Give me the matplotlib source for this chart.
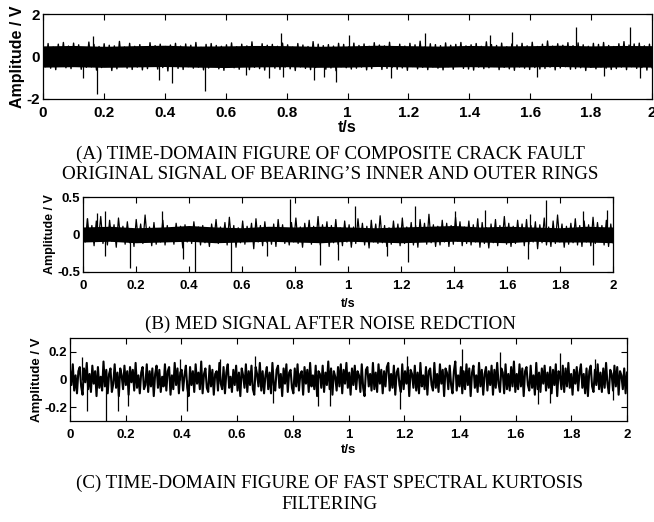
import numpy as np
import matplotlib
matplotlib.use("Agg")
import matplotlib.pyplot as plt

plt.rcParams['axes.unicode_minus'] = False

# (A) raw signal: dense band values, then the big spikes
sig_a = [
    0.52, -0.48, 0.61, -0.55, 0.44, -0.62, 0.58, -0.41, 0.66, -0.53, 0.49, -0.57, 0.63, -0.46, 0.55, -0.60, 0.42, -0.51, 0.68, -0.49,
    0.57, -0.64, 0.47, -0.52, 0.60, -0.44, 0.53, -0.66, 0.50, -0.58, 0.71, -0.47, 0.45, -0.55, 0.62, -0.61, 0.48, -0.50, 0.56, -0.63,
    0.44, -0.57, 0.65, -0.45, 0.51, -0.59, 0.58, -0.52, 0.47, -0.68, 0.54, -0.43, 0.62, -0.56, 0.49, -0.61, 0.59, -0.48, 0.53, -0.55,
    0.66, -0.50, 0.43, -0.63, 0.57, -0.54, 0.61, -0.46, 0.52, -0.58, 0.48, -0.65, 0.55, -0.49, 0.64, -0.53, 0.46, -0.60, 0.58, -0.45,
    0.50, -0.62, 0.69, -0.51, 0.45, -0.57, 0.60, -0.64, 0.53, -0.47, 0.57, -0.55, 0.48, -0.61, 0.63, -0.50, 0.55, -0.58, 0.44, -0.66,
    0.61, -0.49, 0.54, -0.56, 0.47, -0.62, 0.70, -0.52, 0.58, -0.45, 0.51, -0.60, 0.56, -0.54, 0.49, -0.67, 0.62, -0.48, 0.57, -0.53,
    0.46, -0.59, 0.63, -0.55, 0.52, -0.50, 0.59, -0.63, 0.48, -0.57, 0.65, -0.46, 0.54, -0.61, 0.50, -0.56, 0.67, -0.52, 0.45, -0.60,
    0.58, -0.54, 0.49, -0.65, 0.62, -0.47, 0.55, -0.58, 0.72, -0.51, 0.47, -0.62, 0.60, -0.49, 0.56, -0.55, 0.51, -0.63, 0.64, -0.48,
    0.53, -0.60, 0.57, -0.46, 0.66, -0.56, 0.50, -0.59, 0.55, -0.64, 0.61, -0.50, 0.48, -0.57, 0.69, -0.53, 0.56, -0.47, 0.52, -0.62,
    0.63, -0.51, 0.46, -0.58, 0.59, -0.65, 0.54, -0.49, 0.62, -0.55, 0.50, -0.61, 0.67, -0.52, 0.47, -0.59, 0.58, -0.56, 0.73, -0.50,
    0.49, -0.63, 0.60, -0.54, 0.53, -0.48, 0.65, -0.60, 0.51, -0.57, 0.64, -0.53, 0.55, -0.66, 0.48, -0.51, 0.62, -0.58, 0.57, -0.49,
    0.66, -0.55, 0.52, -0.61, 0.47, -0.57, 0.60, -0.50, 0.70, -0.62, 0.54, -0.48, 0.59, -0.56, 0.63, -0.52, 0.50, -0.64, 0.58, -0.53,
]
# solid black core of the band (upper / lower edge)
core_a_hi = [0.50, 0.52, 0.48, 0.51, 0.53, 0.49, 0.50, 0.52, 0.51, 0.48, 0.50,
             0.53, 0.51, 0.49, 0.52, 0.50, 0.51, 0.53, 0.50, 0.52, 0.51]
core_a_lo = [-0.50, -0.48, -0.51, -0.49, -0.47, -0.50, -0.52, -0.49, -0.48, -0.51, -0.50,
             -0.47, -0.49, -0.51, -0.48, -0.50, -0.49, -0.47, -0.51, -0.49, -0.50]
spike_a_t = [0.131, 0.164, 0.177, 0.38, 0.424, 0.532, 0.667, 0.741, 0.782, 0.787, 0.891, 0.923,
             0.962, 1.006, 1.142, 1.255, 1.467, 1.541, 1.622, 1.749, 1.842, 1.929, 1.962]
spike_a_v = [-1.0, 0.97, -1.75, -1.1, -1.25, -1.6, -0.85, -1.0, 1.1, -0.97, -1.1, -0.97,
             -1.2, 1.0, -1.0, 1.1, 1.0, 1.17, -0.95, 1.4, -0.9, 1.4, -1.0]

# (B) MED output
sig_b = [
    0.14, -0.10, 0.21, -0.08, 0.12, -0.15, 0.18, -0.06, 0.24, -0.12, 0.09, -0.14, 0.19, -0.09, 0.13, -0.17, 0.22, -0.07, 0.11, -0.13,
    0.17, -0.11, 0.08, -0.16, 0.20, -0.09, 0.14, -0.12, 0.26, -0.08, 0.10, -0.15, 0.16, -0.13, 0.07, -0.10, 0.19, -0.14, 0.12, -0.09,
    0.09, -0.13, 0.15, -0.07, 0.11, -0.18, 0.13, -0.10, 0.08, -0.12, 0.17, -0.09, 0.10, -0.14, 0.12, -0.11, 0.07, -0.16, 0.14, -0.08,
    0.20, -0.12, 0.10, -0.09, 0.16, -0.14, 0.23, -0.10, 0.12, -0.17, 0.09, -0.11, 0.18, -0.13, 0.11, -0.08, 0.15, -0.19, 0.21, -0.10,
    0.12, -0.15, 0.17, -0.11, 0.09, -0.13, 0.14, -0.16, 0.20, -0.09, 0.13, -0.12, 0.08, -0.14, 0.16, -0.10, 0.22, -0.12, 0.10, -0.17,
    0.15, -0.08, 0.19, -0.13, 0.11, -0.10, 0.24, -0.14, 0.13, -0.09, 0.17, -0.16, 0.12, -0.11, 0.20, -0.13, 0.09, -0.15, 0.18, -0.10,
    0.13, -0.17, 0.10, -0.12, 0.21, -0.09, 0.15, -0.14, 0.11, -0.18, 0.19, -0.10, 0.14, -0.12, 0.25, -0.11, 0.12, -0.16, 0.09, -0.13,
    0.18, -0.10, 0.14, -0.15, 0.22, -0.12, 0.10, -0.09, 0.16, -0.14, 0.12, -0.17, 0.20, -0.08, 0.15, -0.13, 0.27, -0.11, 0.13, -0.16,
    0.11, -0.14, 0.19, -0.10, 0.15, -0.16, 0.12, -0.13, 0.23, -0.09, 0.17, -0.15, 0.10, -0.12, 0.18, -0.14, 0.13, -0.10, 0.21, -0.17,
    0.16, -0.12, 0.09, -0.18, 0.14, -0.11, 0.20, -0.15, 0.12, -0.10, 0.24, -0.13, 0.15, -0.16, 0.11, -0.12, 0.19, -0.09, 0.14, -0.15,
    0.20, -0.13, 0.12, -0.10, 0.17, -0.19, 0.13, -0.11, 0.22, -0.14, 0.10, -0.16, 0.18, -0.12, 0.26, -0.10, 0.14, -0.17, 0.11, -0.13,
    0.15, -0.11, 0.21, -0.14, 0.12, -0.16, 0.18, -0.10, 0.13, -0.15, 0.23, -0.12, 0.16, -0.09, 0.12, -0.14, 0.19, -0.16, 0.14, -0.11,
]
core_b_hi = [0.10, 0.11, 0.09, 0.10, 0.12, 0.10, 0.09, 0.11, 0.10, 0.11, 0.10,
             0.09, 0.10, 0.11, 0.12, 0.10, 0.11, 0.10, 0.09, 0.11, 0.10]
core_b_lo = [-0.10, -0.09, -0.11, -0.10, -0.09, -0.11, -0.10, -0.09, -0.10, -0.11, -0.09,
             -0.10, -0.11, -0.10, -0.09, -0.10, -0.11, -0.09, -0.10, -0.10, -0.11]
spike_b_t = [0.014, 0.052, 0.083, 0.083, 0.177, 0.297, 0.378, 0.423, 0.557, 0.693, 0.781, 0.894, 0.963,
             1.026, 1.146, 1.228, 1.253, 1.404, 1.517, 1.681, 1.687, 1.747, 1.887, 1.926, 1.976]
spike_b_v = [0.22, 0.29, 0.31, -0.29, -0.44, 0.31, -0.33, -0.51, -0.51, -0.28, 0.47, -0.41, -0.34,
             0.38, -0.28, -0.36, 0.38, 0.31, 0.33, -0.32, 0.28, 0.46, 0.31, -0.41, 0.33]

# (C) fast spectral kurtosis filtered
sig_c = [
    0.07, -0.04, 0.11, -0.08, 0.03, -0.10, 0.06, 0.09, -0.05, -0.11, 0.08, -0.02, 0.12, -0.07, 0.04, -0.09, 0.10, -0.03, 0.06, -0.12,
    0.09, -0.06, 0.02, -0.08, 0.13, -0.05, 0.07, -0.10, 0.04, 0.08, -0.09, -0.03, 0.11, -0.06, 0.05, -0.12, 0.08, 0.03, -0.07, 0.10,
    -0.04, 0.06, -0.11, 0.09, -0.02, 0.07, -0.08, 0.12, -0.06, 0.03, -0.10, 0.05, 0.09, -0.07, -0.04, 0.11, -0.09, 0.06, -0.05, 0.08,
    -0.12, 0.04, 0.10, -0.06, 0.07, -0.09, 0.02, -0.05, 0.11, -0.08, 0.06, 0.09, -0.11, 0.03, -0.07, 0.12, -0.04, 0.08, -0.10, 0.05,
    0.07, -0.08, 0.03, 0.10, -0.06, -0.12, 0.09, -0.04, 0.06, -0.09, 0.11, -0.03, 0.05, -0.07, 0.13, -0.10, 0.04, 0.08, -0.06, -0.09,
    0.10, -0.05, 0.07, -0.11, 0.04, 0.06, -0.08, 0.12, -0.03, -0.07, 0.09, -0.10, 0.05, 0.11, -0.06, 0.02, -0.09, 0.07, -0.04, 0.10,
    -0.08, 0.05, -0.12, 0.08, 0.03, -0.06, 0.11, -0.09, 0.06, -0.04, 0.10, -0.07, -0.11, 0.09, 0.04, -0.05, 0.12, -0.08, 0.06, -0.10,
    0.03, 0.09, -0.07, 0.05, -0.10, 0.12, -0.04, -0.08, 0.07, 0.10, -0.06, 0.04, -0.12, 0.08, -0.03, 0.11, -0.09, 0.05, 0.07, -0.06,
    -0.10, 0.08, -0.05, 0.11, -0.08, 0.04, 0.06, -0.11, 0.09, -0.03, 0.07, -0.09, 0.12, -0.05, 0.03, -0.07, 0.10, -0.12, 0.06, 0.04,
    -0.06, 0.10, -0.09, 0.05, -0.04, 0.13, -0.07, 0.08, -0.11, 0.06, 0.02, -0.08, 0.09, -0.05, 0.11, -0.10, 0.07, -0.03, 0.12, -0.06,
    0.05, -0.11, 0.08, -0.04, 0.10, -0.07, 0.06, 0.03, -0.09, 0.11, -0.06, -0.12, 0.07, 0.09, -0.05, 0.04, -0.08, 0.12, -0.07, 0.05,
    -0.09, 0.11, -0.03, 0.07, -0.10, 0.06, -0.05, 0.09, 0.12, -0.08, 0.04, -0.06, 0.10, -0.11, 0.05, 0.08, -0.04, -0.09, 0.11, -0.07,
    0.06, -0.03, 0.09, -0.12, 0.07, 0.04, -0.06, 0.10, -0.08, 0.05, -0.10, 0.12, -0.05, 0.03, -0.07, 0.09, -0.11, 0.06, 0.08, -0.04,
    -0.08, 0.12, -0.06, 0.04, -0.09, 0.11, -0.03, 0.07, -0.12, 0.08, 0.05, -0.07, 0.10, -0.04, -0.10, 0.06, 0.13, -0.08, 0.03, -0.05,
    0.09, -0.10, 0.06, -0.07, 0.11, -0.04, 0.08, -0.12, 0.05, 0.10, -0.06, 0.03, -0.09, 0.12, -0.05, 0.07, -0.11, 0.04, 0.09, -0.08,
    0.06, -0.04, 0.10, -0.11, 0.07, -0.06, 0.12, -0.03, -0.09, 0.08, 0.05, -0.10, 0.11, -0.07, 0.04, -0.08, 0.09, -0.05, 0.13, -0.09,
    0.04, -0.07, 0.11, -0.05, 0.08, -0.12, 0.06, 0.09, -0.04, -0.08, 0.10, -0.06, 0.03, -0.11, 0.12, -0.07, 0.05, -0.09, 0.08, -0.03,
    0.10, -0.08, 0.05, -0.06, 0.09, -0.10, 0.07, -0.04, 0.11, -0.12, 0.06, 0.03, -0.07, 0.10, -0.09, 0.08, -0.05, 0.12, -0.06, 0.04,
    -0.11, 0.07, -0.03, 0.09, -0.08, 0.05, 0.11, -0.06, 0.04, -0.10, 0.08, -0.12, 0.06, 0.10, -0.05, -0.09, 0.07, -0.04, 0.11, -0.07,
    0.05, -0.09, 0.08, -0.06, 0.12, -0.03, -0.10, 0.07, 0.04, -0.08, 0.10, -0.05, 0.09, -0.11, 0.06, 0.03, -0.07, 0.08, -0.10, 0.05,
]
spike_c_t = [0.042, 0.062, 0.129, 0.173, 0.21, 0.395, 0.421, 0.539, 0.664, 0.73, 0.892, 0.934,
             1.185, 1.209, 1.406, 1.544, 1.682, 1.723, 1.759, 1.885, 1.951]
spike_c_v = [0.16, -0.23, -0.3, -0.23, -0.19, 0.15, -0.23, 0.15, 0.17, -0.17, -0.19, -0.19,
             -0.21, 0.17, 0.22, 0.2, -0.18, -0.17, 0.19, 0.15, -0.15]

xticks = [0, 0.2, 0.4, 0.6, 0.8, 1, 1.2, 1.4, 1.6, 1.8, 2]
xtick_labels = ['0', '0.2', '0.4', '0.6', '0.8', '1', '1.2', '1.4', '1.6', '1.8', '2']

captions_a = ["(A) TIME-DOMAIN FIGURE OF COMPOSITE CRACK FAULT",
              "ORIGINAL SIGNAL OF BEARING\u2019S INNER AND OUTER RINGS"]
caption_b = "(B) MED SIGNAL AFTER NOISE REDCTION"
captions_c = ["(C) TIME-DOMAIN FIGURE OF FAST SPECTRAL KURTOSIS", "FILTERING"]

W, H = 654, 522
fig = plt.figure(figsize=(W / 100, H / 100), dpi=100)

sans = ['Liberation Sans', 'DejaVu Sans']
serif = ['Liberation Serif', 'DejaVu Serif']


def box(l, t, r, b):
    return [l / W, 1 - b / H, (r - l) / W, (b - t) / H]


def panel(rect, sig, sp_t, sp_v, core, ylim, yticks, ylabels, fs, lab_fs, lw, pad, lpad):
    ax = fig.add_axes(box(*rect))
    t = np.linspace(0, 2, len(sig))
    if core is not None:
        tc = np.linspace(0, 2, len(core[0]))
        ax.fill_between(tc, core[1], core[0], color='black', lw=0)
    ax.plot(t, sig, color='black', lw=lw)
    ax.vlines(sp_t, 0, sp_v, color='black', lw=0.9)
    ax.set_xlim(0, 2)
    ax.set_ylim(*ylim)
    ax.set_xticks(xticks)
    ax.set_xticklabels(xtick_labels, family=sans, weight='bold', fontsize=fs)
    ax.set_yticks(yticks)
    ax.set_yticklabels(ylabels, family=sans, weight='bold', fontsize=fs)
    ax.tick_params(direction='in', top=True, right=True, length=4, width=0.8)
    ax.tick_params(axis='x', pad=pad)
    ax.tick_params(axis='y', pad=2)
    for s in ax.spines.values():
        s.set_linewidth(0.9)
    ax.set_xlabel('t/s', family=sans, weight='bold', fontsize=lab_fs, labelpad=lpad)
    ax.set_ylabel('Amplitude / V', family=sans, weight='bold', fontsize=lab_fs, labelpad=1)
    return ax


panel((43, 14, 652, 99), sig_a, spike_a_t, spike_a_v, (core_a_hi, core_a_lo),
      (-2, 2), [-2, 0, 2], ['-2', '0', '2'], 11, 11.5, 1.0, 5, 0)
panel((83, 197, 613, 272), sig_b, spike_b_t, spike_b_v, (core_b_hi, core_b_lo),
      (-0.5, 0.5), [-0.5, 0, 0.5], ['-0.5', '0', '0.5'], 9.5, 9, 0.9, 6, 4)
panel((70, 338, 627, 421), sig_c, spike_c_t, spike_c_v, None,
      (-0.3, 0.3), [-0.2, 0, 0.2], ['-0.2', '0', '0.2'], 9.5, 9.5, 1.5, 6, 2)

cap_fs = 13.7
cx = 330 / W
fig.text(cx, 1 - 159 / H, captions_a[0], family=serif, fontsize=cap_fs, ha='center', va='baseline')
fig.text(cx, 1 - 179 / H, captions_a[1], family=serif, fontsize=cap_fs, ha='center', va='baseline')
fig.text(cx, 1 - 329 / H, caption_b, family=serif, fontsize=cap_fs, ha='center', va='baseline')
fig.text(cx, 1 - 488 / H, captions_c[0], family=serif, fontsize=cap_fs, ha='center', va='baseline')
fig.text(cx, 1 - 509 / H, captions_c[1], family=serif, fontsize=cap_fs, ha='center', va='baseline')

fig.savefig('out.png', dpi=100)
